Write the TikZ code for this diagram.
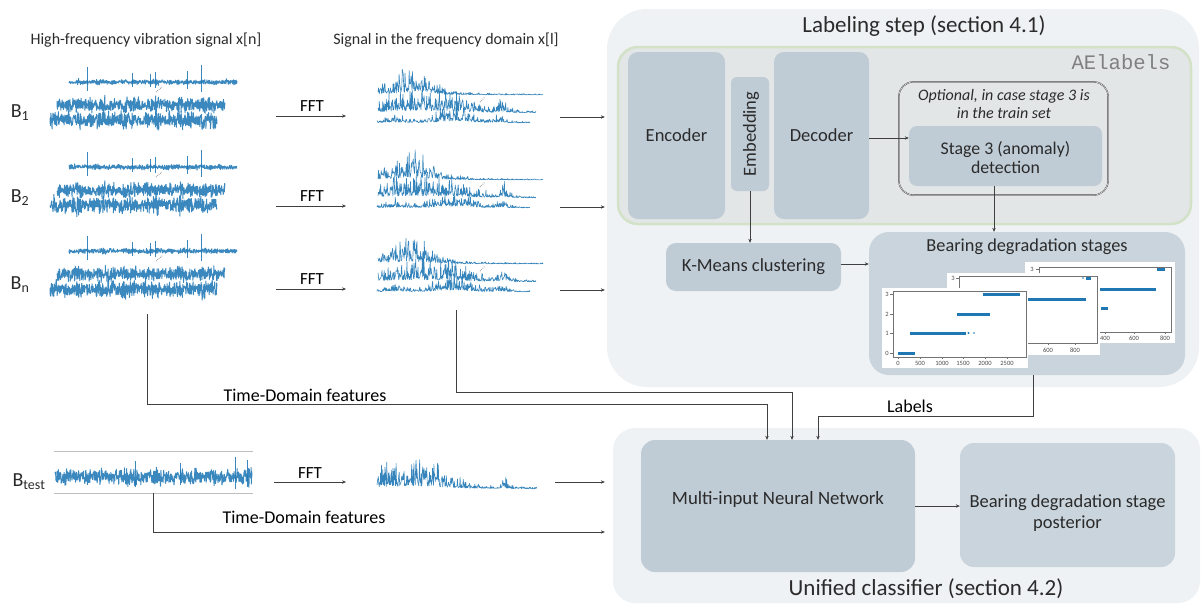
\documentclass[tikz,border=0pt]{standalone}
\usepackage{fontspec}
\setmainfont{Carlito}
\setmonofont{Liberation Mono}
\usetikzlibrary{arrows.meta,calc}
\definecolor{sigblue}{HTML}{1F77B4}
\definecolor{panelfill}{HTML}{EEF2F5}
\definecolor{aefill}{HTML}{E2E6E7}
\definecolor{aeedge}{HTML}{D3E1C6}
\definecolor{boxfill}{HTML}{BFCBD5}
\definecolor{boxlight}{HTML}{C9D4DC}
\definecolor{txt}{HTML}{2B2B2B}
\newcommand\fsz[1]{\fontsize{#1}{#1}\selectfont}
\tikzset{
  panel/.style={fill=panelfill, draw=none, rounded corners=40pt, inner sep=0pt},
  block/.style={fill=boxfill, draw=none, rounded corners=10pt, inner sep=0pt, text=txt, font=\fsz{18.5}},
  conn/.style={draw=black!75, line width=0.5pt, -{Stealth[length=4pt,width=3.4pt]}},
  wire/.style={draw=black!75, line width=0.5pt},
  sig/.style={draw=sigblue, line width=0.95pt, line join=round, opacity=0.88},
  spec/.style={draw=sigblue, line width=0.6pt, line join=round, opacity=0.9},
  ttl/.style={text=txt, font=\fsz{16}},
  blab/.style={text=txt, font=\fsz{20}},
  fftlab/.style={text=black, font=\fsz{17}},
  flab/.style={text=black, font=\fsz{18}},
  tick/.style={text=black!70, font=\fsz{6.5}, inner sep=0.5pt},
  axis/.style={draw=black!55, line width=0.6pt},
  stg/.style={draw=sigblue, line width=3pt},
}
% time-domain noise: x0 x1 yc amp seed
\newcommand\tsig[5]{\pgfmathsetseed{#5}%
  \draw[sig] plot[domain=#1:#2,samples=560] (\x,{#3+#4*rand*(0.4+0.6*rnd)*(0.78+0.22*sin(\x*23+#5*40)*cos(\x*9))});}
% spectrum: x0 L yb H env seed
\newcommand\spec[6]{\pgfmathsetseed{#6}%
  \draw[spec] plot[domain=0:1,samples=360] ({#1+#2*\x},{#3-#4*(#5)*(0.08+0.92*rnd*rnd)});}
\newcommand\group[2]{% yoffset, seed
  \begin{scope}[yshift=-#1pt]
    % time signals
    \tsig{69}{237}{82}{3.8}{#2}
    \foreach \p/\h in {87/15,132/9,150/8,155/10,187/11,201/17}{
      \draw[sig, line width=0.7pt] (\p,82-\h) -- (\p,82+0.6*\h);}
    \tsig{57}{225}{105}{11}{#2+1}
    \tsig{50}{217}{120}{12.5}{#2+2}
    \draw[black!40, densely dotted, line width=0.8pt] (156,92) -- (162,87);
    % spectra
    \spec{378}{165}{95}{31}{1/((1+(\x-0.2)*(\x-0.2)/0.05)*(1+(\x-0.2)*(\x-0.2)/0.05))+0.04}{#2+3}
    \spec{378}{158}{113}{26}{1/(1+(\x-0.3)*(\x-0.3)*(\x-0.3)*(\x-0.3)/0.0081)+0.55/(1+(\x-0.79)*(\x-0.79)/0.0009)+0.04}{#2+4}
    \spec{377}{153}{123}{21}{0.45/(1+(\x-0.12)*(\x-0.12)/0.006)+0.9/(1+(\x-0.5)*(\x-0.5)*(\x-0.5)*(\x-0.5)/0.0004)+0.5/(1+(\x-0.81)*(\x-0.81)/0.0012)+0.05}{#2+5}
    \draw[black!40, densely dotted, line width=0.8pt] (480,102) -- (485,97);
  \end{scope}}
\begin{document}
\begin{tikzpicture}[x=1pt,y=-1pt]
\useasboundingbox (0,0) rectangle (1201,606);
% ---------- panels ----------
\node[panel, minimum width=592, minimum height=378] (lab) at (903,198) {};
\node[panel, rounded corners=22pt, minimum width=587, minimum height=175] (uni) at (906.5,515.5) {};
\node[fill=aefill, draw=aeedge, line width=2.5pt, rounded corners=20pt, minimum width=573, minimum height=177, inner sep=0pt] (ae) at (904.5,135.5) {};
\node[ttl, font=\fsz{23}] (labt) at (924,26) {Labeling step (section 4.1)};
\node[text=black!50, font=\ttfamily\fsz{20.6}, anchor=east] (aet) at (1174,62) {AElabels};
\node[ttl, font=\fsz{23}] (unit) at (926,589) {Unified classifier (section 4.2)};
% ---------- AE blocks ----------
\node[block, minimum width=97, minimum height=167] (enc) at (676.5,135.5) {Encoder};
\node[block, rounded corners=6pt, minimum width=38, minimum height=114] (emb) at (750,134) {};
\node[text=txt, font=\fsz{18.5}, rotate=90] (embt) at (751,134) {Embedding};
\node[block, minimum width=95, minimum height=167] (dec) at (821.5,135.5) {Decoder};
\node[draw=black!80, line width=0.4pt, double=aefill!30!white, double distance=0.5pt, rounded corners=14pt, minimum width=209, minimum height=113, inner sep=0pt] (opt) at (1003.5,138.5) {};
\node[text=txt, font=\itshape\fsz{16}, align=center] (optt) at (1004,104) {Optional, in case stage 3 is\\[2pt] in the train set};
\node[block, rounded corners=8pt, minimum width=193, minimum height=60] (st3) at (1005.5,156) {};
\node[text=txt, font=\fsz{17.8}, inner sep=0pt] (st3a) at (1005.5,150) {Stage 3 (anomaly)};
\node[text=txt, font=\fsz{17.8}, inner sep=0pt] (st3b) at (1005.5,167) {detection};
% ---------- lower labeling ----------
\node[block, minimum width=175, minimum height=48] (km) at (753.5,267) {K-Means clustering};
\node[block, fill=boxlight, rounded corners=20pt, minimum width=316, minimum height=143] (bds) at (1027,303.5) {};
\node[text=txt, font=\fsz{18.3}] (bdst) at (1027,247) {Bearing degradation stages};
% plot 3 (back)
\fill[white] (1025,262) rectangle (1175,343);
\draw[axis] (1039,267) rectangle (1171,332);
\node[tick] at (1032,269) {3};
\draw[axis] (1036,269) -- (1039,269);
\foreach \xx/\tl in {1105/400,1134/600,1165/800}{\draw[axis] (\xx,332) -- (\xx,334); \node[tick] at (\xx,338.5) {\tl};}
\draw[stg] (1157,269) -- (1165,269);
\draw[stg] (1100,289) -- (1156,289);
\draw[stg] (1101,308) -- (1108,308);
% plot 2 (middle)
\fill[white] (947,273) rectangle (1100,355);
\draw[axis] (959,276) rectangle (1097,343);
\node[tick] at (953,278) {3};
\draw[axis] (956,278) -- (959,278);
\foreach \xx/\tl in {1048/600,1075/800}{\draw[axis] (\xx,343) -- (\xx,345); \node[tick] at (\xx,350) {\tl};}
\draw[stg] (990,299) -- (1086,299);
\draw[stg] (1086,278) -- (1091,278);
\fill[sigblue] (1083,278) circle (0.9);
% plot 1 (front)
\fill[white] (882,288) rectangle (1028,368);
\draw[axis] (893,291) rectangle (1026,357);
\foreach \yy/\tl in {353/0,333/1,314/2,294/3}{\draw[axis] (890,\yy) -- (893,\yy); \node[tick] at (887,\yy) {\tl};}
\foreach \xx/\tl in {898/0,920/500,942/1000,963/1500,985/2000,1007/2500}{\draw[axis] (\xx,357) -- (\xx,359); \node[tick] at (\xx,363) {\tl};}
\draw[stg] (898,353) -- (915,353);
\draw[stg] (910,333) -- (966,333);
\fill[sigblue] (968.5,333) circle (1.1) (974,333) circle (0.9);
\draw[stg] (957,314) -- (990,314);
\draw[stg] (983,294) -- (1020,294);
% ---------- unified blocks ----------
\node[block, rounded corners=14pt, minimum width=274, minimum height=132] (nn) at (778,506) {};
\node[text=txt, font=\fsz{18.8}] (nnt) at (778,499) {Multi-input Neural Network};
\node[block, fill=boxlight, rounded corners=14pt, minimum width=215, minimum height=124, align=center] (post) at (1067.5,505) {};
\node[text=txt, font=\fsz{18.5}, align=center] (postt) at (1067.5,513) {Bearing degradation stage\\[3pt] posterior};
% ---------- left side ----------
\node[ttl] (tt1) at (146,40) {High-frequency vibration signal x[n]};
\node[ttl] (tt2) at (446,40) {Signal in the frequency domain x[l]};
\node[blab] (b1) at (20,113) {B\textsubscript{1}};
\node[blab] (b2) at (20,198) {B\textsubscript{2}};
\node[blab] (bn) at (20,285) {B\textsubscript{n}};
\node[blab, anchor=west] (bt) at (9,482) {B\textsubscript{test}};
\group{0}{11}
\group{85}{23}
\group{169}{37}
% test signal
\draw[black!25, line width=0.5pt] (54,451) -- (253,451) (54,493) -- (253,493);
\pgfmathsetseed{71}
\draw[sig] plot[domain=55:252,samples=650] (\x,{477+12*rand*(0.4+0.6*rnd)*(0.78+0.22*sin(\x*19)*cos(\x*7))+4*rand*rnd*rnd*rnd});
\foreach \p/\h in {135/16,180/14,235/20,247/17}{\draw[sig, line width=0.7pt] (\p,477-\h) -- (\p,477+0.6*\h);}
\spec{377}{160}{489}{31}{1/(1+(\x-0.2)*(\x-0.2)*(\x-0.2)*(\x-0.2)/0.006)+0.45/(1+(\x-0.79)*(\x-0.79)/0.0006)+0.06}{83}
% ---------- named coordinates ----------
\foreach \i/\yy in {1/116,2/206,3/289}{
  \coordinate (fa\i) at (276,\yy); \coordinate (fb\i) at (346,\yy);
  \coordinate (oa\i) at (560,\yy+1);}
\coordinate (fa4) at (274,482); \coordinate (fb4) at (346,482);
\coordinate (oa4) at (555,482);
\coordinate (tdA) at (147,314);
\coordinate (fdA) at (456,310);
\coordinate (tdB) at (153,493);
% ---------- connectors ----------
\foreach \i in {1,2,3,4}{\draw[conn] (fa\i) -- (fb\i);}
\node[fftlab] at (312,106) {FFT};
\node[fftlab] at (312,196) {FFT};
\node[fftlab] at (312,279) {FFT};
\node[fftlab] at (310,473) {FFT};
\foreach \i in {1,2,3}{\draw[conn, shorten >=2pt] (oa\i) -- (oa\i -| lab.west);}
\draw[conn, shorten >=8pt] (oa4) -- (oa4 -| uni.west);
\draw[conn] (tdA) -- (tdA |- 0,404) -| ([xshift=-11pt]nn.north);
\draw[conn] (fdA) -- (fdA |- 0,392) -| ([xshift=14pt]nn.north);
\draw[conn] (bds.south -| 1033,0) -- (1033,416) -| ([xshift=40pt]nn.north);
\node[flab] at (305,395) {Time-Domain features};
\node[flab] at (910,406) {Labels};
\draw[conn, shorten >=8pt] (tdB) -- (tdB |- 0,532) -- (tdB |- 0,532 -| uni.west);
\node[flab] at (304,517) {Time-Domain features};
\draw[conn] (dec.east |- 0,138) -- (st3.west |- 0,138);
\draw[conn] (emb.south) -- (emb.south |- km.north);
\draw[conn] ([xshift=-11.5pt]st3.south) -- ([xshift=-11.5pt]st3.south |- bds.north);
\draw[conn] (km.east |- 0,264) -- (bds.west |- 0,264);
\draw[conn] (nn.east |- 0,506) -- (post.west |- 0,506);
\end{tikzpicture}
\end{document}
